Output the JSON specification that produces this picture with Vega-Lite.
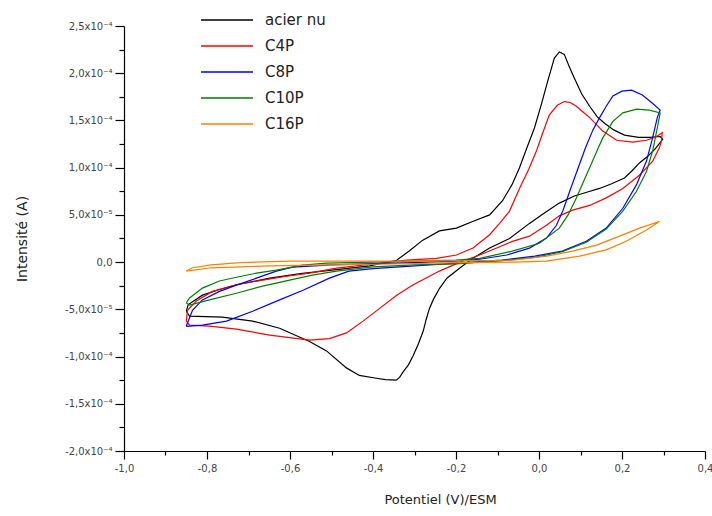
{
  "$schema": "https://vega.github.io/schema/vega-lite/v6.json",
  "width": 581,
  "height": 425,
  "autosize": "none",
  "padding": {"left": 124, "top": 26, "right": 7, "bottom": 65},
  "background": "white",
  "config": {
    "view": {"stroke": null},
    "font": "DejaVu Sans",
    "axis": {"grid": false, "domainColor": "#000", "tickColor": "#000", "domainWidth": 1.2, "tickWidth": 1.2, "labelColor": "#444", "titleColor": "#222", "titleFontWeight": "normal", "labelFont": "DejaVu Sans", "titleFont": "DejaVu Sans"}
  },
  "data": {"values": [
    {"s":"acier nu","o":1,"E":-0.85,"I":-0.52e-4},
    {"s":"acier nu","o":2,"E":-0.845,"I":-0.45e-4},
    {"s":"acier nu","o":3,"E":-0.811,"I":-0.35e-4},
    {"s":"acier nu","o":4,"E":-0.77,"I":-0.29e-4},
    {"s":"acier nu","o":5,"E":-0.729,"I":-0.24e-4},
    {"s":"acier nu","o":6,"E":-0.649,"I":-0.17e-4},
    {"s":"acier nu","o":7,"E":-0.57,"I":-0.12e-4},
    {"s":"acier nu","o":8,"E":-0.488,"I":-0.08e-4},
    {"s":"acier nu","o":9,"E":-0.408,"I":-0.04e-4},
    {"s":"acier nu","o":10,"E":-0.343,"I":0.02e-4},
    {"s":"acier nu","o":11,"E":-0.312,"I":0.12e-4},
    {"s":"acier nu","o":12,"E":-0.281,"I":0.23e-4},
    {"s":"acier nu","o":13,"E":-0.24,"I":0.33e-4},
    {"s":"acier nu","o":14,"E":-0.199,"I":0.36e-4},
    {"s":"acier nu","o":15,"E":-0.16,"I":0.43e-4},
    {"s":"acier nu","o":16,"E":-0.119,"I":0.50e-4},
    {"s":"acier nu","o":17,"E":-0.088,"I":0.65e-4},
    {"s":"acier nu","o":18,"E":-0.065,"I":0.82e-4},
    {"s":"acier nu","o":19,"E":-0.047,"I":1.00e-4},
    {"s":"acier nu","o":20,"E":-0.03,"I":1.20e-4},
    {"s":"acier nu","o":21,"E":-0.011,"I":1.42e-4},
    {"s":"acier nu","o":22,"E":0.005,"I":1.66e-4},
    {"s":"acier nu","o":23,"E":0.02,"I":1.90e-4},
    {"s":"acier nu","o":24,"E":0.037,"I":2.16e-4},
    {"s":"acier nu","o":25,"E":0.049,"I":2.225e-4},
    {"s":"acier nu","o":26,"E":0.061,"I":2.20e-4},
    {"s":"acier nu","o":27,"E":0.072,"I":2.08e-4},
    {"s":"acier nu","o":28,"E":0.085,"I":1.95e-4},
    {"s":"acier nu","o":29,"E":0.103,"I":1.78e-4},
    {"s":"acier nu","o":30,"E":0.122,"I":1.65e-4},
    {"s":"acier nu","o":31,"E":0.14,"I":1.54e-4},
    {"s":"acier nu","o":32,"E":0.158,"I":1.47e-4},
    {"s":"acier nu","o":33,"E":0.18,"I":1.40e-4},
    {"s":"acier nu","o":34,"E":0.206,"I":1.345e-4},
    {"s":"acier nu","o":35,"E":0.24,"I":1.32e-4},
    {"s":"acier nu","o":36,"E":0.266,"I":1.32e-4},
    {"s":"acier nu","o":37,"E":0.292,"I":1.33e-4},
    {"s":"acier nu","o":38,"E":0.298,"I":1.30e-4},
    {"s":"acier nu","o":39,"E":0.28,"I":1.20e-4},
    {"s":"acier nu","o":40,"E":0.262,"I":1.12e-4},
    {"s":"acier nu","o":41,"E":0.242,"I":1.05e-4},
    {"s":"acier nu","o":42,"E":0.225,"I":0.97e-4},
    {"s":"acier nu","o":43,"E":0.206,"I":0.89e-4},
    {"s":"acier nu","o":44,"E":0.175,"I":0.83e-4},
    {"s":"acier nu","o":45,"E":0.146,"I":0.78e-4},
    {"s":"acier nu","o":46,"E":0.115,"I":0.74e-4},
    {"s":"acier nu","o":47,"E":0.085,"I":0.70e-4},
    {"s":"acier nu","o":48,"E":0.049,"I":0.625e-4},
    {"s":"acier nu","o":49,"E":0.013,"I":0.52e-4},
    {"s":"acier nu","o":50,"E":-0.023,"I":0.41e-4},
    {"s":"acier nu","o":51,"E":-0.071,"I":0.25e-4},
    {"s":"acier nu","o":52,"E":-0.119,"I":0.15e-4},
    {"s":"acier nu","o":53,"E":-0.159,"I":0.04e-4},
    {"s":"acier nu","o":54,"E":-0.19,"I":-0.06e-4},
    {"s":"acier nu","o":55,"E":-0.222,"I":-0.17e-4},
    {"s":"acier nu","o":56,"E":-0.24,"I":-0.28e-4},
    {"s":"acier nu","o":57,"E":-0.255,"I":-0.40e-4},
    {"s":"acier nu","o":58,"E":-0.264,"I":-0.49e-4},
    {"s":"acier nu","o":59,"E":-0.272,"I":-0.61e-4},
    {"s":"acier nu","o":60,"E":-0.279,"I":-0.73e-4},
    {"s":"acier nu","o":61,"E":-0.29,"I":-0.86e-4},
    {"s":"acier nu","o":62,"E":-0.303,"I":-0.99e-4},
    {"s":"acier nu","o":63,"E":-0.315,"I":-1.09e-4},
    {"s":"acier nu","o":64,"E":-0.327,"I":-1.16e-4},
    {"s":"acier nu","o":65,"E":-0.336,"I":-1.22e-4},
    {"s":"acier nu","o":66,"E":-0.344,"I":-1.25e-4},
    {"s":"acier nu","o":67,"E":-0.37,"I":-1.245e-4},
    {"s":"acier nu","o":68,"E":-0.392,"I":-1.23e-4},
    {"s":"acier nu","o":69,"E":-0.433,"I":-1.20e-4},
    {"s":"acier nu","o":70,"E":-0.464,"I":-1.12e-4},
    {"s":"acier nu","o":71,"E":-0.512,"I":-0.94e-4},
    {"s":"acier nu","o":72,"E":-0.553,"I":-0.84e-4},
    {"s":"acier nu","o":73,"E":-0.625,"I":-0.70e-4},
    {"s":"acier nu","o":74,"E":-0.69,"I":-0.625e-4},
    {"s":"acier nu","o":75,"E":-0.763,"I":-0.583e-4},
    {"s":"acier nu","o":76,"E":-0.842,"I":-0.572e-4},
    {"s":"acier nu","o":77,"E":-0.85,"I":-0.52e-4},

    {"s":"C4P","o":1,"E":-0.85,"I":-0.625e-4},
    {"s":"C4P","o":2,"E":-0.847,"I":-0.51e-4},
    {"s":"C4P","o":3,"E":-0.825,"I":-0.41e-4},
    {"s":"C4P","o":4,"E":-0.787,"I":-0.31e-4},
    {"s":"C4P","o":5,"E":-0.729,"I":-0.24e-4},
    {"s":"C4P","o":6,"E":-0.666,"I":-0.19e-4},
    {"s":"C4P","o":7,"E":-0.608,"I":-0.15e-4},
    {"s":"C4P","o":8,"E":-0.553,"I":-0.117e-4},
    {"s":"C4P","o":9,"E":-0.488,"I":-0.064e-4},
    {"s":"C4P","o":10,"E":-0.4,"I":-0.02e-4},
    {"s":"C4P","o":11,"E":-0.319,"I":0.02e-4},
    {"s":"C4P","o":12,"E":-0.247,"I":0.04e-4},
    {"s":"C4P","o":13,"E":-0.199,"I":0.075e-4},
    {"s":"C4P","o":14,"E":-0.159,"I":0.15e-4},
    {"s":"C4P","o":15,"E":-0.119,"I":0.29e-4},
    {"s":"C4P","o":16,"E":-0.095,"I":0.41e-4},
    {"s":"C4P","o":17,"E":-0.071,"I":0.54e-4},
    {"s":"C4P","o":18,"E":-0.047,"I":0.78e-4},
    {"s":"C4P","o":19,"E":-0.025,"I":0.98e-4},
    {"s":"C4P","o":20,"E":-0.006,"I":1.18e-4},
    {"s":"C4P","o":21,"E":0.01,"I":1.38e-4},
    {"s":"C4P","o":22,"E":0.025,"I":1.56e-4},
    {"s":"C4P","o":23,"E":0.044,"I":1.66e-4},
    {"s":"C4P","o":24,"E":0.061,"I":1.70e-4},
    {"s":"C4P","o":25,"E":0.075,"I":1.69e-4},
    {"s":"C4P","o":26,"E":0.09,"I":1.65e-4},
    {"s":"C4P","o":27,"E":0.106,"I":1.59e-4},
    {"s":"C4P","o":28,"E":0.122,"I":1.53e-4},
    {"s":"C4P","o":29,"E":0.153,"I":1.39e-4},
    {"s":"C4P","o":30,"E":0.187,"I":1.29e-4},
    {"s":"C4P","o":31,"E":0.226,"I":1.27e-4},
    {"s":"C4P","o":32,"E":0.259,"I":1.29e-4},
    {"s":"C4P","o":33,"E":0.283,"I":1.33e-4},
    {"s":"C4P","o":34,"E":0.297,"I":1.37e-4},
    {"s":"C4P","o":35,"E":0.295,"I":1.28e-4},
    {"s":"C4P","o":36,"E":0.29,"I":1.21e-4},
    {"s":"C4P","o":37,"E":0.274,"I":1.07e-4},
    {"s":"C4P","o":38,"E":0.242,"I":0.92e-4},
    {"s":"C4P","o":39,"E":0.202,"I":0.78e-4},
    {"s":"C4P","o":40,"E":0.162,"I":0.68e-4},
    {"s":"C4P","o":41,"E":0.122,"I":0.60e-4},
    {"s":"C4P","o":42,"E":0.081,"I":0.55e-4},
    {"s":"C4P","o":43,"E":0.049,"I":0.49e-4},
    {"s":"C4P","o":44,"E":0.018,"I":0.39e-4},
    {"s":"C4P","o":45,"E":-0.023,"I":0.275e-4},
    {"s":"C4P","o":46,"E":-0.064,"I":0.22e-4},
    {"s":"C4P","o":47,"E":-0.102,"I":0.15e-4},
    {"s":"C4P","o":48,"E":-0.143,"I":0.075e-4},
    {"s":"C4P","o":49,"E":-0.19,"I":0.0},
    {"s":"C4P","o":50,"E":-0.24,"I":-0.095e-4},
    {"s":"C4P","o":51,"E":-0.305,"I":-0.244e-4},
    {"s":"C4P","o":52,"E":-0.343,"I":-0.35e-4},
    {"s":"C4P","o":53,"E":-0.384,"I":-0.49e-4},
    {"s":"C4P","o":54,"E":-0.424,"I":-0.625e-4},
    {"s":"C4P","o":55,"E":-0.464,"I":-0.75e-4},
    {"s":"C4P","o":56,"E":-0.505,"I":-0.81e-4},
    {"s":"C4P","o":57,"E":-0.553,"I":-0.826e-4},
    {"s":"C4P","o":58,"E":-0.649,"I":-0.773e-4},
    {"s":"C4P","o":59,"E":-0.729,"I":-0.71e-4},
    {"s":"C4P","o":60,"E":-0.794,"I":-0.678e-4},
    {"s":"C4P","o":61,"E":-0.842,"I":-0.667e-4},
    {"s":"C4P","o":62,"E":-0.85,"I":-0.625e-4},

    {"s":"C8P","o":1,"E":-0.85,"I":-0.68e-4},
    {"s":"C8P","o":2,"E":-0.835,"I":-0.51e-4},
    {"s":"C8P","o":3,"E":-0.811,"I":-0.40e-4},
    {"s":"C8P","o":4,"E":-0.77,"I":-0.31e-4},
    {"s":"C8P","o":5,"E":-0.729,"I":-0.244e-4},
    {"s":"C8P","o":6,"E":-0.681,"I":-0.17e-4},
    {"s":"C8P","o":7,"E":-0.633,"I":-0.095e-4},
    {"s":"C8P","o":8,"E":-0.594,"I":-0.053e-4},
    {"s":"C8P","o":9,"E":-0.5,"I":-0.03e-4},
    {"s":"C8P","o":10,"E":-0.4,"I":-0.015e-4},
    {"s":"C8P","o":11,"E":-0.3,"I":-0.005e-4},
    {"s":"C8P","o":12,"E":-0.2,"I":0.01e-4},
    {"s":"C8P","o":13,"E":-0.143,"I":0.03e-4},
    {"s":"C8P","o":14,"E":-0.078,"I":0.075e-4},
    {"s":"C8P","o":15,"E":-0.023,"I":0.148e-4},
    {"s":"C8P","o":16,"E":0.018,"I":0.254e-4},
    {"s":"C8P","o":17,"E":0.042,"I":0.39e-4},
    {"s":"C8P","o":18,"E":0.058,"I":0.55e-4},
    {"s":"C8P","o":19,"E":0.074,"I":0.75e-4},
    {"s":"C8P","o":20,"E":0.093,"I":0.98e-4},
    {"s":"C8P","o":21,"E":0.112,"I":1.21e-4},
    {"s":"C8P","o":22,"E":0.13,"I":1.40e-4},
    {"s":"C8P","o":23,"E":0.146,"I":1.53e-4},
    {"s":"C8P","o":24,"E":0.162,"I":1.65e-4},
    {"s":"C8P","o":25,"E":0.178,"I":1.76e-4},
    {"s":"C8P","o":26,"E":0.2,"I":1.81e-4},
    {"s":"C8P","o":27,"E":0.223,"I":1.82e-4},
    {"s":"C8P","o":28,"E":0.249,"I":1.77e-4},
    {"s":"C8P","o":29,"E":0.274,"I":1.68e-4},
    {"s":"C8P","o":30,"E":0.292,"I":1.61e-4},
    {"s":"C8P","o":31,"E":0.285,"I":1.53e-4},
    {"s":"C8P","o":32,"E":0.274,"I":1.32e-4},
    {"s":"C8P","o":33,"E":0.259,"I":1.07e-4},
    {"s":"C8P","o":34,"E":0.235,"I":0.82e-4},
    {"s":"C8P","o":35,"E":0.202,"I":0.57e-4},
    {"s":"C8P","o":36,"E":0.162,"I":0.36e-4},
    {"s":"C8P","o":37,"E":0.114,"I":0.22e-4},
    {"s":"C8P","o":38,"E":0.056,"I":0.116e-4},
    {"s":"C8P","o":39,"E":-0.01,"I":0.063e-4},
    {"s":"C8P","o":40,"E":-0.09,"I":0.021e-4},
    {"s":"C8P","o":41,"E":-0.2,"I":-0.01e-4},
    {"s":"C8P","o":42,"E":-0.3,"I":-0.04e-4},
    {"s":"C8P","o":43,"E":-0.4,"I":-0.07e-4},
    {"s":"C8P","o":44,"E":-0.458,"I":-0.095e-4},
    {"s":"C8P","o":45,"E":-0.505,"I":-0.17e-4},
    {"s":"C8P","o":46,"E":-0.57,"I":-0.30e-4},
    {"s":"C8P","o":47,"E":-0.625,"I":-0.40e-4},
    {"s":"C8P","o":48,"E":-0.69,"I":-0.52e-4},
    {"s":"C8P","o":49,"E":-0.753,"I":-0.625e-4},
    {"s":"C8P","o":50,"E":-0.811,"I":-0.667e-4},
    {"s":"C8P","o":51,"E":-0.85,"I":-0.68e-4},

    {"s":"C10P","o":1,"E":-0.85,"I":-0.43e-4},
    {"s":"C10P","o":2,"E":-0.842,"I":-0.38e-4},
    {"s":"C10P","o":3,"E":-0.811,"I":-0.275e-4},
    {"s":"C10P","o":4,"E":-0.77,"I":-0.20e-4},
    {"s":"C10P","o":5,"E":-0.729,"I":-0.16e-4},
    {"s":"C10P","o":6,"E":-0.681,"I":-0.117e-4},
    {"s":"C10P","o":7,"E":-0.633,"I":-0.085e-4},
    {"s":"C10P","o":8,"E":-0.57,"I":-0.032e-4},
    {"s":"C10P","o":9,"E":-0.512,"I":-0.01e-4},
    {"s":"C10P","o":10,"E":-0.4,"I":0.0},
    {"s":"C10P","o":11,"E":-0.3,"I":0.01e-4},
    {"s":"C10P","o":12,"E":-0.2,"I":0.02e-4},
    {"s":"C10P","o":13,"E":-0.143,"I":0.04e-4},
    {"s":"C10P","o":14,"E":-0.064,"I":0.116e-4},
    {"s":"C10P","o":15,"E":0.001,"I":0.20e-4},
    {"s":"C10P","o":16,"E":0.049,"I":0.36e-4},
    {"s":"C10P","o":17,"E":0.07,"I":0.50e-4},
    {"s":"C10P","o":18,"E":0.09,"I":0.68e-4},
    {"s":"C10P","o":19,"E":0.106,"I":0.84e-4},
    {"s":"C10P","o":20,"E":0.122,"I":1.00e-4},
    {"s":"C10P","o":21,"E":0.138,"I":1.16e-4},
    {"s":"C10P","o":22,"E":0.153,"I":1.31e-4},
    {"s":"C10P","o":23,"E":0.178,"I":1.49e-4},
    {"s":"C10P","o":24,"E":0.202,"I":1.58e-4},
    {"s":"C10P","o":25,"E":0.235,"I":1.62e-4},
    {"s":"C10P","o":26,"E":0.266,"I":1.61e-4},
    {"s":"C10P","o":27,"E":0.292,"I":1.58e-4},
    {"s":"C10P","o":28,"E":0.285,"I":1.42e-4},
    {"s":"C10P","o":29,"E":0.274,"I":1.18e-4},
    {"s":"C10P","o":30,"E":0.259,"I":0.96e-4},
    {"s":"C10P","o":31,"E":0.235,"I":0.75e-4},
    {"s":"C10P","o":32,"E":0.202,"I":0.54e-4},
    {"s":"C10P","o":33,"E":0.162,"I":0.35e-4},
    {"s":"C10P","o":34,"E":0.114,"I":0.21e-4},
    {"s":"C10P","o":35,"E":0.056,"I":0.11e-4},
    {"s":"C10P","o":36,"E":-0.01,"I":0.05e-4},
    {"s":"C10P","o":37,"E":-0.1,"I":0.01e-4},
    {"s":"C10P","o":38,"E":-0.2,"I":-0.02e-4},
    {"s":"C10P","o":39,"E":-0.3,"I":-0.03e-4},
    {"s":"C10P","o":40,"E":-0.4,"I":-0.05e-4},
    {"s":"C10P","o":41,"E":-0.488,"I":-0.095e-4},
    {"s":"C10P","o":42,"E":-0.546,"I":-0.138e-4},
    {"s":"C10P","o":43,"E":-0.601,"I":-0.19e-4},
    {"s":"C10P","o":44,"E":-0.666,"I":-0.254e-4},
    {"s":"C10P","o":45,"E":-0.729,"I":-0.33e-4},
    {"s":"C10P","o":46,"E":-0.794,"I":-0.40e-4},
    {"s":"C10P","o":47,"E":-0.842,"I":-0.456e-4},
    {"s":"C10P","o":48,"E":-0.85,"I":-0.43e-4},

    {"s":"C16P","o":1,"E":-0.85,"I":-0.095e-4},
    {"s":"C16P","o":2,"E":-0.835,"I":-0.06e-4},
    {"s":"C16P","o":3,"E":-0.79,"I":-0.03e-4},
    {"s":"C16P","o":4,"E":-0.72,"I":-0.005e-4},
    {"s":"C16P","o":5,"E":-0.6,"I":0.01e-4},
    {"s":"C16P","o":6,"E":-0.45,"I":0.01e-4},
    {"s":"C16P","o":7,"E":-0.3,"I":0.01e-4},
    {"s":"C16P","o":8,"E":-0.15,"I":0.015e-4},
    {"s":"C16P","o":9,"E":-0.064,"I":0.02e-4},
    {"s":"C16P","o":10,"E":0.018,"I":0.064e-4},
    {"s":"C16P","o":11,"E":0.081,"I":0.116e-4},
    {"s":"C16P","o":12,"E":0.139,"I":0.18e-4},
    {"s":"C16P","o":13,"E":0.194,"I":0.275e-4},
    {"s":"C16P","o":14,"E":0.242,"I":0.36e-4},
    {"s":"C16P","o":15,"E":0.29,"I":0.43e-4},
    {"s":"C16P","o":16,"E":0.259,"I":0.34e-4},
    {"s":"C16P","o":17,"E":0.21,"I":0.22e-4},
    {"s":"C16P","o":18,"E":0.162,"I":0.13e-4},
    {"s":"C16P","o":19,"E":0.098,"I":0.064e-4},
    {"s":"C16P","o":20,"E":0.018,"I":0.01e-4},
    {"s":"C16P","o":21,"E":-0.064,"I":0.0},
    {"s":"C16P","o":22,"E":-0.2,"I":-0.005e-4},
    {"s":"C16P","o":23,"E":-0.35,"I":-0.02e-4},
    {"s":"C16P","o":24,"E":-0.5,"I":-0.03e-4},
    {"s":"C16P","o":25,"E":-0.65,"I":-0.04e-4},
    {"s":"C16P","o":26,"E":-0.79,"I":-0.06e-4},
    {"s":"C16P","o":27,"E":-0.85,"I":-0.095e-4}
  ]},
  "mark": {"type": "line", "strokeWidth": 1.2, "clip": true},
  "encoding": {
    "x": {
      "field": "E", "type": "quantitative",
      "scale": {"domain": [-1, 0.4], "nice": false, "zero": false},
      "axis": {
        "title": "Potentiel (V)/ESM",
        "titleFontSize": 13, "titleX": 316, "titleY": 42,
        "values": [-1,-0.9,-0.8,-0.7,-0.6,-0.5,-0.4,-0.3,-0.2,-0.1,0,0.1,0.2,0.3,0.4],
        "labelExpr": "abs(datum.value*5 - round(datum.value*5)) < 0.01 ? ((datum.value < -0.001 ? '-' : '') + replace(format(abs(datum.value), '.1f'), '.', ',')) : ''",
        "tickSize": {"condition": {"test": "abs(datum.value*5 - round(datum.value*5)) < 0.01", "value": 8}, "value": 4},
        "labelFontSize": 10, "labelPadding": 4, "labelFlush": false, "labelOverlap": false
      }
    },
    "y": {
      "field": "I", "type": "quantitative",
      "scale": {"domain": [-2.0e-4, 2.5e-4], "nice": false, "zero": false},
      "axis": {
        "title": "Intensité (A)",
        "titleFontSize": 14, "titleX": -95,
        "values": [-2.0e-4,-1.75e-4,-1.5e-4,-1.25e-4,-1.0e-4,-0.75e-4,-0.5e-4,-0.25e-4,0,0.25e-4,0.5e-4,0.75e-4,1.0e-4,1.25e-4,1.5e-4,1.75e-4,2.0e-4,2.25e-4,2.5e-4],
        "labelExpr": "abs(datum.value*2e4 - round(datum.value*2e4)) > 0.01 ? '' : (abs(datum.value) < 1e-9 ? '0,0' : (abs(datum.value) < 0.99e-4 ? ((datum.value < 0 ? '-' : '') + replace(format(abs(datum.value)*1e5, '.1f'), '.', ',') + 'x10⁻⁵') : ((datum.value < 0 ? '-' : '') + replace(format(abs(datum.value)*1e4, '.1f'), '.', ',') + 'x10⁻⁴')))",
        "tickSize": {"condition": {"test": "abs(datum.value*2e4 - round(datum.value*2e4)) < 0.01", "value": 9}, "value": 5},
        "labelFontSize": 10, "labelPadding": 3, "labelFlush": false, "labelOverlap": false
      }
    },
    "color": {
      "field": "s", "type": "nominal",
      "scale": {"domain": ["acier nu", "C4P", "C8P", "C10P", "C16P"], "range": ["#000000", "#ff0000", "#0000ff", "#008000", "#ff8000"]},
      "legend": {"title": null, "orient": "none", "legendX": 76, "legendY": -19, "symbolType": "stroke", "symbolSize": 2700, "symbolStrokeWidth": 1.3, "labelFontSize": 15, "labelColor": "#222", "labelOffset": 11, "clipHeight": 26, "rowPadding": 0, "padding": 0}
    },
    "order": {"field": "o", "type": "quantitative"}
  }
}
